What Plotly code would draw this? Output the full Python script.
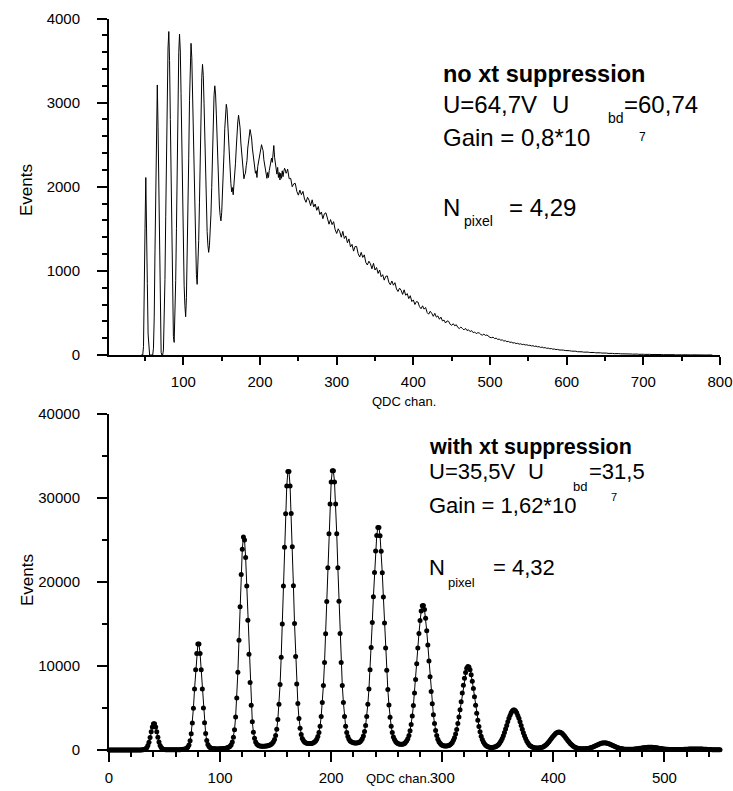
import plotly.graph_objects as go

W, H = 733, 791

# ---- upper spectrum: no crosstalk suppression ----
# channels 45..235, one value per QDC channel
top_fine_start = 45
top_counts_fine = [
    0, 0, 0, 100, 600, 1500, 2110, 1650, 850, 250,
    20, 0, 0, 0, 0, 0, 80, 450, 1250, 2200,
    3180, 3210, 2700, 1850, 950, 300, 30, 0, 0, 60,
    350, 900, 1650, 2450, 3150, 3650, 3845, 3500, 2800, 1950,
    1150, 550, 220, 150, 407, 883, 1506, 2276, 3045, 3595,
    3815, 3613, 3109, 2471, 1765, 1228, 825, 589, 455, 683,
    1105, 1658, 2340, 3023, 3510, 3705, 3533, 3103, 2559, 1957,
    1499, 1155, 955, 840, 1023, 1363, 1808, 2357, 2906, 3298,
    3455, 3321, 2986, 2561, 2092, 1734, 1466, 1309, 1220, 1299,
    1438, 1675, 1992, 2408, 2784, 3081, 3200, 3104, 2863, 2558,
    2221, 1964, 1772, 1659, 1595, 1692, 1872, 2107, 2398, 2689,
    2897, 2980, 2920, 2740, 2560, 2300, 2160, 2040, 1940, 1990,
    1905, 2020, 2110, 2280, 2460, 2660, 2770, 2850, 2790, 2700,
    2520, 2390, 2240, 2170, 2095, 2140, 2160, 2250, 2310, 2460,
    2540, 2650, 2680, 2630, 2580, 2460, 2380, 2260, 2230, 2160,
    2190, 2110, 2240, 2290, 2340, 2440, 2470, 2500, 2460, 2430,
    2320, 2270, 2180, 2140, 2100, 2170, 2110, 2190, 2240, 2270,
    2340, 2290, 2380, 2490, 2350, 2270, 2190, 2150, 2230, 2110,
    2170, 2080, 2160, 2100, 2190, 2120, 2180, 2220, 2200, 2160,
    2180,
]
# channels 236..790, every second channel
top_coarse_start = 236
top_coarse_step = 2
top_counts_coarse = [
    2210, 2095, 2100, 2000, 2035, 2040, 1945, 1900, 1960, 1905,
    1945, 1855, 1815, 1875, 1840, 1775, 1845, 1760, 1795, 1720,
    1765, 1670, 1700, 1620, 1680, 1690, 1600, 1555, 1610, 1550,
    1585, 1490, 1445, 1500, 1465, 1400, 1470, 1385, 1415, 1335,
    1380, 1285, 1315, 1235, 1290, 1290, 1205, 1165, 1220, 1160,
    1190, 1100, 1070, 1115, 1085, 1025, 1090, 1010, 1040, 970,
    1010, 930, 955, 890, 935, 940, 865, 835, 880, 830,
    860, 785, 755, 795, 770, 720, 775, 710, 730, 670,
    705, 635, 655, 600, 635, 630, 575, 550, 585, 545,
    565, 505, 485, 520, 495, 460, 495, 450, 465, 425,
    450, 405, 415, 380, 405, 400, 365, 353, 372, 347,
    360, 328, 315, 332, 316, 298, 317, 291, 300, 278,
    290, 266, 273, 254, 265, 262, 244, 236, 248, 233,
    238, 217, 209, 206, 212, 195, 200, 185, 189, 176,
    180, 166, 170, 158, 162, 150, 153, 142, 146, 135,
    139, 129, 133, 124, 127, 119, 122, 114, 116, 107,
    111, 102, 106, 97, 99, 90, 94, 85, 88, 79,
    82, 74, 77, 69, 71, 64, 67, 60, 62, 56,
    58, 53, 55, 49, 51, 46, 48, 42, 45, 39,
    41, 37, 38, 34, 36, 32, 34, 30, 32, 28,
    30, 26, 28, 25, 26, 23, 25, 21, 23, 19,
    21, 18, 19, 16, 18, 15, 17, 14, 15, 13,
    14, 12, 13, 11, 12, 10, 12, 9, 11, 8,
    10, 8, 9, 7, 9, 6, 8, 6, 7, 5,
    7, 5, 6, 4, 6, 4, 5, 3, 5, 3,
    4, 3, 4, 2, 4, 2, 3, 2, 3, 1,
    3, 1, 2, 1, 2, 1, 2, 1, 1, 0,
    1, 0, 1, 0, 1, 0, 0, 0,
]

# ---- lower spectrum: with crosstalk suppression, channels 0..550 ----
bottom_counts = [
    0, 0, 0, 0, 0, 0, 0, 0, 0, 0,
    0, 0, 0, 0, 0, 0, 0, 0, 0, 0,
    0, 0, 0, 0, 0, 0, 0, 0, 0, 0,
    21, 35, 70, 140, 275, 535, 935, 1500, 2165, 2745,
    3115, 3115, 2745, 2165, 1505, 940, 545, 285, 150, 85,
    50, 36, 28, 22, 18, 17, 17, 18, 18, 19,
    20, 22, 26, 30, 36, 46, 58, 77, 102, 147,
    220, 354, 605, 1090, 1930, 3215, 4985, 7250, 9540, 11485,
    12605, 12610, 11490, 9550, 7265, 5005, 3235, 1955, 1120, 655,
    411, 283, 215, 175, 155, 142, 136, 132, 133, 135,
    137, 145, 155, 170, 188, 208, 243, 286, 359, 447,
    634, 943, 1504, 2419, 3938, 6187, 9244, 13056, 17044, 20907,
    23913, 25357, 25012, 22929, 19510, 15435, 11411, 8042, 5329, 3371,
    2119, 1395, 961, 719, 592, 516, 485, 460, 447, 443,
    453, 462, 486, 515, 559, 608, 693, 797, 975, 1252,
    1719, 2481, 3637, 5451, 7791, 11050, 15000, 19509, 24150, 28132,
    31425, 33140, 33145, 31440, 28158, 24187, 19557, 15059, 11120, 7872,
    5543, 3738, 2591, 1838, 1381, 1127, 960, 874, 808, 781,
    760, 766, 784, 810, 874, 945, 1075, 1285, 1593, 2088,
    2828, 3977, 5650, 7685, 10408, 13853, 17692, 21695, 25730, 29273,
    31898, 33243, 33243, 31898, 29274, 25732, 21698, 17696, 13858, 10414,
    7692, 5658, 3985, 2836, 2097, 1603, 1291, 1077, 978, 911,
    852, 833, 823, 828, 855, 904, 985, 1128, 1346, 1672,
    2191, 2916, 3981, 5437, 7258, 9547, 12203, 15170, 18242, 21131,
    23682, 25529, 26490, 26486, 25517, 23662, 21103, 18206, 15126, 12151,
    9487, 7189, 5359, 3894, 2820, 2086, 1559, 1239, 1015, 863,
    777, 724, 694, 685, 689, 723, 788, 908, 1089, 1339,
    1733, 2291, 3046, 4039, 5284, 6783, 8401, 10255, 12142, 13878,
    15428, 16556, 17161, 17207, 16713, 15678, 14204, 12493, 10596, 8733,
    6972, 5514, 4209, 3157, 2325, 1713, 1269, 981, 790, 667,
    562, 512, 488, 471, 472, 493, 540, 622, 732, 906,
    1149, 1465, 1910, 2433, 3142, 3918, 4792, 5744, 6774, 7706,
    8542, 9241, 9735, 9946, 9885, 9560, 8962, 8189, 7309, 6340,
    5314, 4375, 3534, 2790, 2174, 1644, 1252, 960, 737, 572,
    469, 399, 348, 312, 307, 304, 321, 350, 399, 472,
    570, 693, 891, 1108, 1381, 1710, 2085, 2498, 2925, 3366,
    3775, 4124, 4435, 4649, 4764, 4763, 4646, 4430, 4117, 3766,
    3355, 2912, 2482, 2067, 1689, 1357, 1081, 861, 660, 519,
    434, 352, 295, 259, 236, 227, 227, 239, 259, 294,
    334, 401, 488, 577, 693, 832, 990, 1152, 1330, 1512,
    1676, 1830, 1965, 2065, 2125, 2145, 2123, 2061, 1959, 1822,
    1666, 1500, 1316, 1137, 973, 813, 672, 554, 451, 359,
    293, 247, 208, 179, 159, 145, 139, 138, 142, 151,
    169, 191, 216, 249, 291, 331, 385, 446, 504, 568,
    634, 692, 743, 789, 821, 843, 849, 841, 819, 785,
    739, 686, 627, 560, 495, 435, 374, 318, 271, 226,
    193, 164, 139, 118, 104, 94, 86, 82, 81, 82,
    87, 92, 101, 111, 122, 139, 154, 173, 195, 215,
    237, 259, 278, 296, 311, 321, 328, 330, 327, 320,
    309, 293, 275, 255, 232, 210, 189, 166, 146, 128,
    110, 98, 86, 75, 67, 60, 55, 51, 49, 49,
    48, 50, 52, 55, 59, 61, 66, 74, 81, 89,
    96, 104, 111, 116, 122, 127, 131, 132, 133, 132,
    129, 125, 120, 114, 107, 100, 92, 84, 75, 68,
    60, 54, 48, 43, 38, 35, 31, 28, 26, 24,
    22,
]

top_x = (list(range(top_fine_start, top_fine_start + len(top_counts_fine)))
         + [top_coarse_start + top_coarse_step * i for i in range(len(top_counts_coarse))])
top_y = top_counts_fine + top_counts_coarse
bottom_x = list(range(len(bottom_counts)))

FONT = "Liberation Sans, Arial, sans-serif"


def px(x):
    return x / W


def py(y):
    return 1 - y / H


fig = go.Figure()
fig.add_trace(go.Scatter(
    x=top_x, y=top_y, mode="lines",
    line=dict(color="black", width=1),
    xaxis="x", yaxis="y", cliponaxis=False,
    showlegend=False, hoverinfo="skip",
))
fig.add_trace(go.Scatter(
    x=bottom_x, y=bottom_counts, mode="lines+markers",
    line=dict(color="black", width=1),
    marker=dict(color="black", size=5),
    xaxis="x2", yaxis="y2", cliponaxis=False,
    showlegend=False, hoverinfo="skip",
))


def axis(**kw):
    base = dict(
        showgrid=False, zeroline=False, showline=True,
        linecolor="black", linewidth=2,
        ticks="outside", tickcolor="black", tickwidth=1.5,
        tickfont=dict(family=FONT, size=15, color="black"),
        tickformat="d", fixedrange=True, automargin=False,
    )
    base.update(kw)
    return base


def minor(dtick, length):
    return dict(dtick=dtick, ticklen=length, ticks="outside",
                tickcolor="black", tickwidth=1.5)


fig.update_layout(
    width=W, height=H,
    margin=dict(l=0, r=0, t=0, b=0, autoexpand=False),
    paper_bgcolor="white", plot_bgcolor="white",
    xaxis=axis(domain=[px(109), px(720)], range=[3, 800], tick0=0, dtick=100,
               ticklen=8, minor=minor(50, 4), anchor="y", ticklabelstandoff=4),
    yaxis=axis(domain=[py(355), py(18.5)], range=[0, 4000], dtick=1000,
               ticklen=10, minor=minor(200, 5), anchor="x", ticklabelstandoff=14),
    xaxis2=axis(domain=[px(109), px(720)], range=[0, 550], tick0=0, dtick=100,
                ticklen=10, minor=minor(20, 5), anchor="y2", ticklabelstandoff=3),
    yaxis2=axis(domain=[py(750), py(414)], range=[0, 40000], dtick=10000,
                ticklen=10, minor=minor(5000, 5), anchor="x2", ticklabelstandoff=14),
)

annotations = []


def note(text, x, y, size, anchor="left", angle=0):
    annotations.append(dict(
        text=text, x=px(x), y=py(y), xref="paper", yref="paper",
        xanchor=anchor, yanchor="middle", showarrow=False, textangle=angle,
        font=dict(family=FONT, size=size, color="black"), borderpad=0,
    ))


# upper panel labels
note("<b>no xt suppression</b>", 442, 74, 23.5)
note("U=64,7V", 442, 104, 24)
note("U", 551, 104, 24)
note("bd", 607, 118, 14)
note("=60,74", 623, 104, 24)
note("Gain = 0,8*10", 442, 138, 24)
note("7", 638, 137, 12)
note("N", 442, 208, 24)
note("pixel", 463, 221, 14)
note("= 4,29", 508, 208, 24)

# lower panel labels
note("<b>with xt suppression</b>", 428, 447, 21.5)
note("U=35,5V", 428, 472, 22)
note("U", 527, 472, 22)
note("bd", 572, 486, 13)
note("=31,5", 588, 472, 22)
note("Gain = 1,62*10", 428, 505, 22)
note("7", 610, 497, 11)
note("N", 428, 567, 22)
note("pixel", 447, 582, 13)
note("= 4,32", 492, 567, 22)

# axis titles
note("Events", 27, 190, 17, anchor="center", angle=-90)
note("Events", 27, 580, 17, anchor="center", angle=-90)
note("QDC chan.", 404, 401, 13, anchor="center")
note("QDC chan.", 398, 778, 13, anchor="center")

fig.update_layout(annotations=annotations)

fig.write_html("out.html")
